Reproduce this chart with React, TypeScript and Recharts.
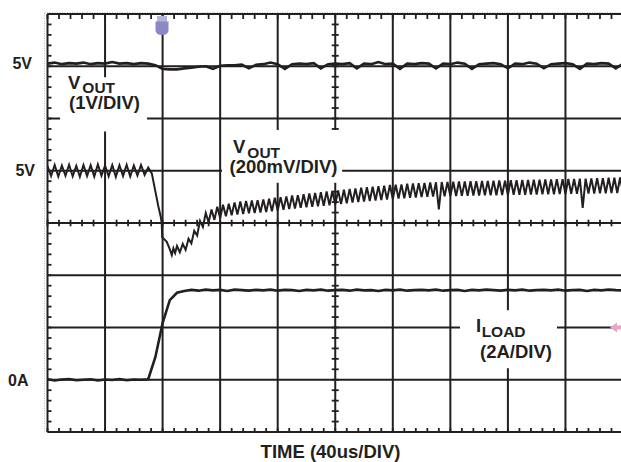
import React from 'react';
import { LineChart, Line, XAxis, YAxis, ReferenceLine } from 'recharts';

// ---------- axes (oscilloscope divisions) ----------
// time: 40 us / DIV, 10 divisions
const TIME_GRID_US = [0, 40, 80, 120, 160, 200, 240, 280, 320, 360, 400];
// vertical: 8 divisions
const DIV_GRID = [0, 1, 2, 3, 4, 5, 6, 7, 8];

// ---------- channel 1 : VOUT (1V/DIV), one sample every 5 us ----------
const VOUT1_STEP_US = 5;
const VOUT1_V = [
  5.05, 5.07, 5.04, 5.06, 5.05, 5.07, 5.04, 5.06, 5.05, 5.08,
  5.05, 5.06, 5.04, 5.06, 5.05, 5.02, 4.95, 4.94, 4.94, 4.96,
  4.97, 4.99, 5.00, 4.95, 5.01, 5.02, 5.02, 5.03, 4.96, 5.03,
  5.04, 5.07, 5.04, 4.95, 5.04, 5.05, 5.04, 5.06, 4.96, 5.04,
  5.05, 5.04, 5.06, 4.96, 5.05, 5.04, 5.08, 5.04, 5.05, 4.95,
  5.05, 5.04, 5.06, 5.05, 4.96, 5.05, 5.04, 5.07, 5.05, 4.95,
  5.04, 5.05, 5.06, 5.04, 4.96, 5.05, 5.04, 5.07, 5.05, 4.96,
  5.04, 5.05, 5.06, 5.04, 4.95, 5.05, 5.04, 5.06, 5.05, 4.96,
  5.05,
];

// ---------- channel 3 : ILOAD (2A/DIV), one sample every 5 us ----------
const ILOAD_STEP_US = 5;
const ILOAD_A = [
  0.02, -0.03, 0.01, 0.03, -0.02, 0.0, 0.02, -0.03, 0.01, -0.01,
  0.03, -0.02, 0.01, 0.0, 0.02, 0.87, 2.17, 3.05, 3.33, 3.4,
  3.44, 3.41, 3.45, 3.42, 3.44, 3.4, 3.45, 3.43, 3.41, 3.44,
  3.42, 3.45, 3.41, 3.44, 3.43, 3.4, 3.44, 3.42, 3.45, 3.41,
  3.43, 3.44, 3.41, 3.45, 3.42, 3.43, 3.4, 3.44, 3.42, 3.45,
  3.41, 3.43, 3.44, 3.42, 3.45, 3.41, 3.43, 3.44, 3.4, 3.44,
  3.42, 3.45, 3.43, 3.41, 3.44, 3.42, 3.45, 3.41, 3.43, 3.44,
  3.42, 3.45, 3.41, 3.43, 3.44, 3.4, 3.44, 3.42, 3.45, 3.43,
  3.42,
];

// ---------- channel 2 : VOUT (200mV/DIV) ----------
const VOUT2_PRE_STEP_US = 2.5;
const VOUT2_PRE_V = [
  5.018, 4.98, 5.022, 4.978, 5.02, 4.981, 5.023, 4.979, 5.019, 4.977,
  5.022, 4.98, 5.021, 4.978, 5.024, 4.981, 5.02, 4.979, 5.022, 4.977,
  5.021, 4.98, 5.023, 4.978, 5.02, 4.982, 5.022, 4.984, 5.012,
];
const VOUT2_DROP_T_US = [72.5, 74.8, 77.1, 78.7, 79.4, 79.7, 80.6, 82.9, 85.2, 86.4, 87.5, 88.7];
const VOUT2_DROP_V = [4.99, 4.926, 4.862, 4.824, 4.8, 4.746, 4.741, 4.728, 4.697, 4.677, 4.703, 4.685];
const VOUT2_POST_START_US = 90;
const VOUT2_POST_STEP_US = 2;
const VOUT2_POST_V = [
  4.712, 4.688, 4.72, 4.697, 4.74, 4.722, 4.77, 4.752, 4.808, 4.785,
  4.838, 4.803, 4.852, 4.812, 4.862, 4.819, 4.87, 4.826, 4.874, 4.83,
  4.879, 4.832, 4.882, 4.834, 4.884, 4.837, 4.886, 4.838, 4.887, 4.84,
  4.89, 4.842, 4.893, 4.845, 4.897, 4.848, 4.899, 4.851, 4.902, 4.853,
  4.905, 4.855, 4.906, 4.858, 4.91, 4.86, 4.913, 4.862, 4.915, 4.864,
  4.918, 4.866, 4.921, 4.868, 4.923, 4.871, 4.925, 4.873, 4.927, 4.875,
  4.93, 4.878, 4.932, 4.88, 4.935, 4.882, 4.937, 4.884, 4.939, 4.886,
  4.941, 4.888, 4.943, 4.89, 4.946, 4.892, 4.947, 4.894, 4.948, 4.895,
  4.95, 4.896, 4.951, 4.897, 4.952, 4.899, 4.953, 4.9, 4.955, 4.901,
  4.956, 4.852, 4.957, 4.902, 4.957, 4.903, 4.958, 4.903, 4.959, 4.904,
  4.959, 4.904, 4.96, 4.905, 4.96, 4.905, 4.961, 4.906, 4.961, 4.906,
  4.962, 4.906, 4.963, 4.907, 4.962, 4.907, 4.964, 4.908, 4.964, 4.908,
  4.965, 4.908, 4.965, 4.909, 4.966, 4.909, 4.966, 4.91, 4.967, 4.91,
  4.967, 4.91, 4.968, 4.911, 4.968, 4.911, 4.969, 4.912, 4.969, 4.912,
  4.97, 4.858, 4.97, 4.913, 4.971, 4.913, 4.972, 4.914, 4.972, 4.914,
  4.973, 4.915, 4.973, 4.915, 4.974, 4.916,
];

// ---------- build series tables ----------
const vout1Data = VOUT1_V.map((v, i) => ({ t: i * VOUT1_STEP_US, v }));
const iloadData = ILOAD_A.map((v, i) => ({ t: i * ILOAD_STEP_US, v }));
const vout2Data = [
  ...VOUT2_PRE_V.map((v, i) => ({ t: i * VOUT2_PRE_STEP_US, v })),
  ...VOUT2_DROP_V.map((v, i) => ({ t: VOUT2_DROP_T_US[i], v })),
  ...VOUT2_POST_V.map((v, i) => ({ t: VOUT2_POST_START_US + i * VOUT2_POST_STEP_US, v })),
];

// ---------- layout ----------
const W = 623;
const H = 462;
const MARGIN = { top: 14, right: 0, bottom: 30, left: 47.5 };
const PX_X = 400 / (W - MARGIN.left - MARGIN.right); // us per pixel
const PX_Y = 8 / (H - MARGIN.top - MARGIN.bottom); // div per pixel
const INK = '#231f20';

// regions where the graticule is hidden behind the channel labels
const LABEL_GAPS = [
  { t1: 8.7, t2: 69.2, d1: 5.75, d2: 6.79 },
  { t1: 121.3, t2: 204.8, d1: 4.77, d2: 5.78 },
  { t1: 286.7, t2: 354.1, d1: 1.22, d2: 2.33 },
];

function cutInterval(a: number, b: number, cuts: [number, number][]): [number, number][] {
  let parts: [number, number][] = [[a, b]];
  for (const [c1, c2] of cuts) {
    const next: [number, number][] = [];
    for (const [p1, p2] of parts) {
      if (c2 <= p1 || c1 >= p2) {
        next.push([p1, p2]);
        continue;
      }
      if (c1 > p1) next.push([p1, c1]);
      if (c2 < p2) next.push([c2, p2]);
    }
    parts = next;
  }
  return parts;
}

type Seg = { x1: number; y1: number; x2: number; y2: number; w: number };
const segs: Seg[] = [];
DIV_GRID.forEach((d) => {
  const cuts = LABEL_GAPS.filter((g) => d >= g.d1 && d <= g.d2).map((g) => [g.t1, g.t2] as [number, number]);
  cutInterval(0, 400, cuts).forEach(([a, b]) => segs.push({ x1: a, y1: d, x2: b, y2: d, w: 2 }));
});
TIME_GRID_US.forEach((t) => {
  const cuts = LABEL_GAPS.filter((g) => t >= g.t1 && t <= g.t2).map((g) => [g.d1, g.d2] as [number, number]);
  cutInterval(0, 8, cuts).forEach(([a, b]) => segs.push({ x1: t, y1: a, x2: t, y2: b, w: 2 }));
});
for (let k = 0; k <= 50; k++) {
  const t = k * 8;
  segs.push({ x1: t, y1: 8, x2: t, y2: 8 - 5 * PX_Y, w: 1.8 });
  segs.push({ x1: t, y1: 0, x2: t, y2: 4 * PX_Y, w: 1.8 });
  segs.push({ x1: t, y1: 4 - 3.3 * PX_Y, x2: t, y2: 4 + 3.3 * PX_Y, w: 1.8 });
}
for (let k = 0; k <= 40; k++) {
  const d = k * 0.2;
  segs.push({ x1: 0, y1: d, x2: 4 * PX_X, y2: d, w: 1.8 });
  const hidden = LABEL_GAPS.some((g) => 200 >= g.t1 && 200 <= g.t2 && d >= g.d1 && d <= g.d2);
  if (!hidden) segs.push({ x1: 200 - 3.5 * PX_X, y1: d, x2: 200 + 3.5 * PX_X, y2: d, w: 1.8 });
}

const FONT = "'Liberation Sans', Arial, Helvetica, sans-serif";

export default function App() {
  return (
    <div style={{ position: 'absolute', left: 0, top: 0, width: 621, height: 462, overflow: 'hidden', background: '#fff' }}>
      <LineChart width={W} height={H} margin={MARGIN}>
        <XAxis type="number" dataKey="t" domain={[0, 400]} hide allowDataOverflow />
        <YAxis yAxisId="div" type="number" domain={[0, 8]} hide allowDataOverflow />
        <YAxis yAxisId="v1" type="number" domain={[-2, 6]} hide allowDataOverflow />
        <YAxis yAxisId="v2" type="number" domain={[4.0, 5.6]} hide allowDataOverflow />
        <YAxis yAxisId="i" type="number" domain={[-2, 14]} hide allowDataOverflow />
        {segs.map((s, i) => (
          <ReferenceLine
            key={'g' + i}
            yAxisId="div"
            ifOverflow="visible"
            segment={[{ x: s.x1, y: s.y1 }, { x: s.x2, y: s.y2 }]}
            stroke={INK}
            strokeWidth={s.w}
          />
        ))}
        <Line yAxisId="v1" data={vout1Data} dataKey="v" type="linear" stroke={INK} strokeWidth={2.6} dot={false} activeDot={false} isAnimationActive={false} />
        <Line yAxisId="v2" data={vout2Data} dataKey="v" type="linear" stroke={INK} strokeWidth={2} dot={false} activeDot={false} isAnimationActive={false} />
        <Line yAxisId="i" data={iloadData} dataKey="v" type="linear" stroke={INK} strokeWidth={2.6} dot={false} activeDot={false} isAnimationActive={false} />
      </LineChart>
      <svg width={621} height={462} style={{ position: 'absolute', left: 0, top: 0, pointerEvents: 'none' }}>
        <line x1={44.5} y1={13} x2={44.5} y2={433} stroke="#b8aeb8" strokeWidth={1} strokeDasharray="1 1.5" />
        <line x1={44.5} y1={12.5} x2={621} y2={12.5} stroke="#c8c0c8" strokeWidth={1} strokeDasharray="1 1.5" />
        <g fontFamily={FONT} fontWeight="bold" fill={INK}>
          <text x={32} y={68.5} fontSize={16} textAnchor="end">5V</text>
          <text x={35} y={176} fontSize={16} textAnchor="end">5V</text>
          <text x={28.5} y={386} fontSize={16} textAnchor="end">0A</text>

          <text x={68} y={88.5} fontSize={18.5}>
            V<tspan dx={2} dy={4.5} fontSize={15.5}>OUT</tspan>
          </text>
          <text x={69} y={108.5} fontSize={18.5}>(1V/DIV)</text>

          <text x={233} y={152.5} fontSize={18.5}>
            V<tspan dx={2} dy={5} fontSize={15.5}>OUT</tspan>
          </text>
          <text x={229.5} y={172.5} fontSize={18.5}>(200mV/DIV)</text>

          <text x={476} y={332} fontSize={18.5}>
            I<tspan dx={0.5} dy={5} fontSize={15.5}>LOAD</tspan>
          </text>
          <text x={480} y={358} fontSize={18.5}>(2A/DIV)</text>

          <text x={330.5} y={458} fontSize={18.5} textAnchor="middle">TIME (40us/DIV)</text>
        </g>
        <rect x={157} y={16} width={10} height={6} fill="#b4b1db" />
        <path d="M155.5 21.5 H168.5 V30 Q168.5 35 162 35 Q155.5 35 155.5 30 Z" fill="#8c88c5" />
        <polygon points="610,327.5 617,322.5 617,325.5 621,325.5 621,329.5 617,329.5 617,332.5" fill="#e3a6c6" />
      </svg>
    </div>
  );
}
